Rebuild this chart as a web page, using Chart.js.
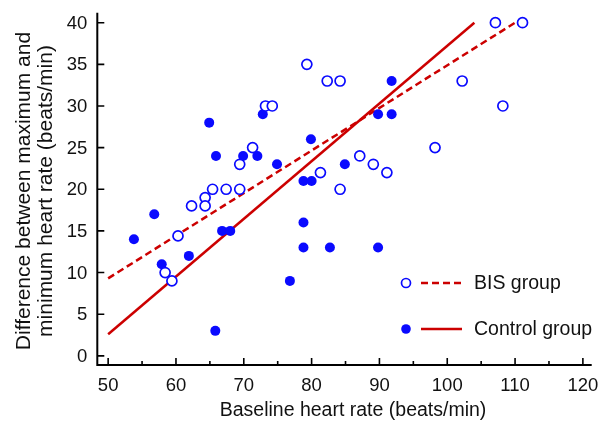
<!DOCTYPE html>
<html>
<head>
<meta charset="utf-8">
<script src="https://cdn.jsdelivr.net/npm/chart.js@4/dist/chart.umd.min.js"></script>
<style>
  html, body { margin: 0; padding: 0; background: #fff; }
  #wrap { width: 599px; height: 422px; position: relative; }
</style>
</head>
<body>
<div id="wrap"><canvas id="hrChart"></canvas></div>
<script>
// BIS group (open circles)
const bisX = [79.3, 82.3, 84.2, 73.2, 74.2, 71.3, 69.4, 81.3, 65.4, 67.4, 69.4, 84.2, 64.3,
              62.3, 64.3, 60.3, 58.4, 59.4, 107.1, 111.1, 102.2, 108.2, 98.2, 87.1, 89.1, 91.1];
const bisY = [35, 33, 33, 30, 30, 25, 23, 22, 20, 20, 20, 20, 19,
              18, 18, 14.4, 10, 9, 40, 40, 33, 30, 25, 24, 23, 22];

// Control group (filled circles)
const ctrlX = [72.8, 64.9, 79.9, 65.9, 69.9, 72.0, 74.9, 84.9, 78.8, 80.0, 56.8, 53.8, 66.8,
               68.0, 57.9, 61.9, 65.8, 76.8, 78.8, 78.8, 82.7, 91.8, 89.8, 91.8, 89.8];
const ctrlY = [29, 28, 26, 24, 24, 24, 23, 23, 21, 21, 17, 14, 15,
               15, 11, 12, 3, 9, 16, 13, 13, 33, 29, 29, 13];

// fitted lines (end points)
const bisFitX = [50, 110];
const bisFitY = [9.3, 40.0];
const ctrlFitX = [50, 104];
const ctrlFitY = [2.6, 40.0];

const xTicks = [50, 60, 70, 80, 90, 100, 110, 120];
const xMinorTicks = [55, 65, 75, 85, 95, 105, 115];
const yTicks = [0, 5, 10, 15, 20, 25, 30, 35, 40];

const xTitle = 'Baseline heart rate (beats/min)';
const yTitle = ['Difference between maximum and', 'minimum heart rate (beats/min)'];
const legendNames = ['BIS group', 'Control group'];

const BLUE = '#0a0aff';
const RED = '#cc0000';
const FONT = '"Liberation Sans", Arial, sans-serif';

function toPoints(xs, ys) {
    return xs.map(function(x, i) { return { x: x, y: ys[i] }; });
}

// axes, inward ticks, labels, titles and legend
const axisPlugin = {
    id: 'axisPlugin',
    afterDraw: function(chart) {
        const ctx = chart.ctx;
        const xs = chart.scales.x;
        const ys = chart.scales.y;
        const area = chart.chartArea;
        ctx.save();

        // axis lines
        ctx.strokeStyle = '#000';
        ctx.lineWidth = 2;
        ctx.beginPath();
        ctx.moveTo(area.left, area.top);
        ctx.lineTo(area.left, area.bottom);
        ctx.lineTo(area.right, area.bottom);
        ctx.stroke();

        // ticks
        ctx.lineWidth = 1.6;
        ctx.beginPath();
        yTicks.forEach(function(v) {
            const py = ys.getPixelForValue(v);
            ctx.moveTo(area.left, py);
            ctx.lineTo(area.left + 7, py);
        });
        xTicks.forEach(function(v) {
            const px = xs.getPixelForValue(v);
            ctx.moveTo(px, area.bottom);
            ctx.lineTo(px, area.bottom - 7);
        });
        xMinorTicks.forEach(function(v) {
            const px = xs.getPixelForValue(v);
            ctx.moveTo(px, area.bottom);
            ctx.lineTo(px, area.bottom - 4);
        });
        ctx.stroke();

        // tick labels
        ctx.fillStyle = '#111';
        ctx.font = '18.5px ' + FONT;
        ctx.textAlign = 'right';
        ctx.textBaseline = 'middle';
        yTicks.forEach(function(v) {
            ctx.fillText(String(v), area.left - 10, ys.getPixelForValue(v) + 1);
        });
        ctx.textAlign = 'center';
        ctx.textBaseline = 'alphabetic';
        xTicks.forEach(function(v) {
            ctx.fillText(String(v), xs.getPixelForValue(v), 390.5);
        });

        // axis titles
        ctx.font = '19.5px ' + FONT;
        ctx.fillText(xTitle, 353, 416);
        ctx.save();
        ctx.translate(30, 191);
        ctx.rotate(-Math.PI / 2);
        ctx.font = '21px ' + FONT;
        ctx.fillText(yTitle[0], 0, 0);
        ctx.fillText(yTitle[1], 0, 21.5);
        ctx.restore();

        // legend
        const rows = [283, 329];
        ctx.lineWidth = 2.5;
        ctx.strokeStyle = RED;
        rows.forEach(function(ry, i) {
            ctx.beginPath();
            ctx.setLineDash(i === 0 ? [7, 4] : []);
            ctx.moveTo(421, ry);
            ctx.lineTo(462, ry);
            ctx.stroke();
        });
        ctx.setLineDash([]);
        ctx.beginPath();
        ctx.arc(406, rows[0], 4.5, 0, Math.PI * 2);
        ctx.fillStyle = '#fff';
        ctx.fill();
        ctx.lineWidth = 1.7;
        ctx.strokeStyle = BLUE;
        ctx.stroke();
        ctx.beginPath();
        ctx.arc(406, rows[1], 4.8, 0, Math.PI * 2);
        ctx.fillStyle = BLUE;
        ctx.fill();

        ctx.fillStyle = '#111';
        ctx.font = '19.5px ' + FONT;
        ctx.textAlign = 'left';
        ctx.textBaseline = 'alphabetic';
        ctx.fillText(legendNames[0], 474, rows[0] + 6);
        ctx.fillText(legendNames[1], 474, rows[1] + 6);

        ctx.restore();
    }
};

new Chart(document.getElementById('hrChart'), {
    type: 'scatter',
    data: {
        datasets: [
            {
                label: legendNames[0] + ' fit',
                type: 'line',
                data: toPoints(bisFitX, bisFitY),
                borderColor: RED,
                borderWidth: 2.5,
                borderDash: [7, 4],
                pointRadius: 0,
                fill: false,
                order: 3
            },
            {
                label: legendNames[1] + ' fit',
                type: 'line',
                data: toPoints(ctrlFitX, ctrlFitY),
                borderColor: RED,
                borderWidth: 2.5,
                pointRadius: 0,
                fill: false,
                order: 3
            },
            {
                label: legendNames[0],
                data: toPoints(bisX, bisY),
                pointRadius: 5,
                pointBackgroundColor: '#fff',
                pointBorderColor: BLUE,
                pointBorderWidth: 1.7,
                order: 1
            },
            {
                label: legendNames[1],
                data: toPoints(ctrlX, ctrlY),
                pointRadius: 5,
                pointBackgroundColor: BLUE,
                pointBorderColor: BLUE,
                pointBorderWidth: 0,
                order: 2
            }
        ]
    },
    options: {
        responsive: true,
        maintainAspectRatio: false,
        animation: false,
        layout: { padding: { left: 0, right: 7.3, top: 12.7, bottom: 0 } },
        plugins: {
            legend: { display: false },
            tooltip: { enabled: false }
        },
        scales: {
            x: {
                type: 'linear',
                min: 48.4,
                max: 121.3,
                grid: { display: false },
                border: { display: false },
                ticks: { display: false },
                afterFit: function(scale) { scale.height = 57; }
            },
            y: {
                type: 'linear',
                min: -1.1,
                max: 41.2,
                grid: { display: false },
                border: { display: false },
                ticks: { display: false },
                afterFit: function(scale) { scale.width = 97.3; }
            }
        }
    },
    plugins: [axisPlugin]
});
</script>
</body>
</html>
